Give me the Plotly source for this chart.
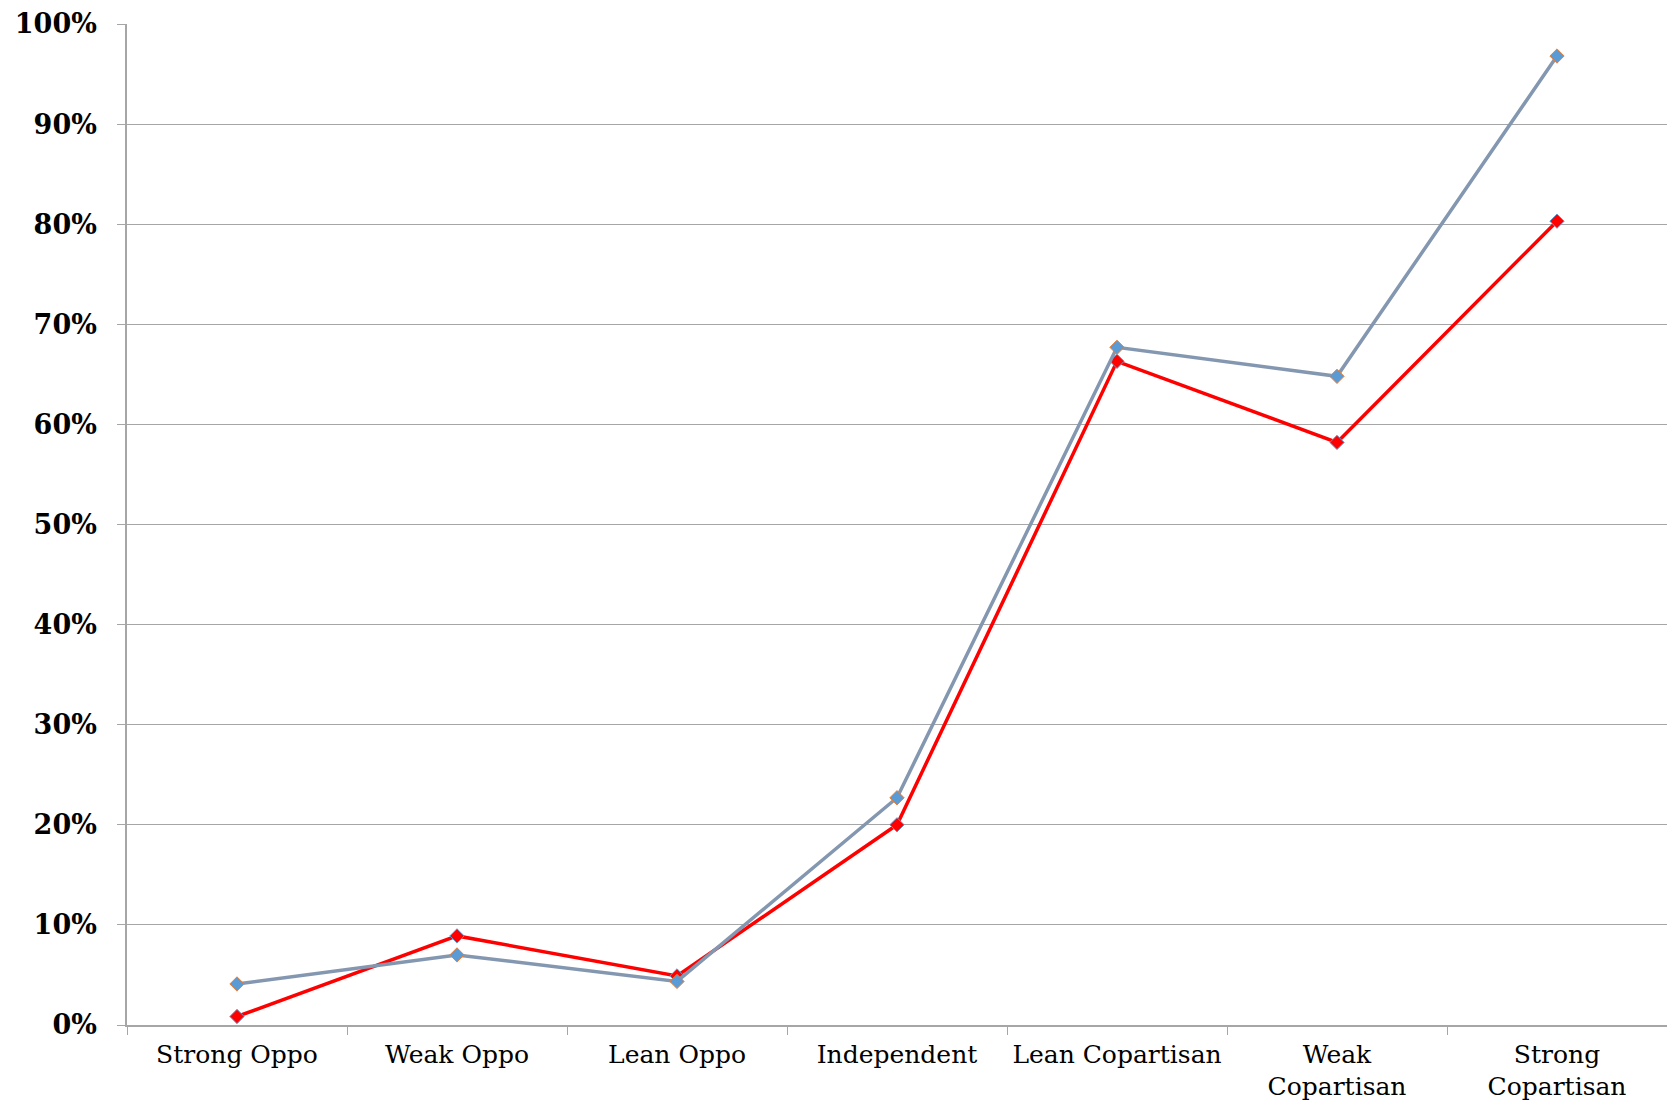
import plotly.graph_objects as go

categories = ["Strong Oppo", "Weak Oppo", "Lean Oppo", "Independent",
              "Lean Copartisan", "Weak<br>Copartisan", "Strong<br>Copartisan"]
red_values = [0.0085, 0.089, 0.049, 0.200, 0.663, 0.582, 0.803]
gray_values = [0.041, 0.070, 0.0435, 0.227, 0.677, 0.648, 0.968]
y_tick_vals = [0, 0.1, 0.2, 0.3, 0.4, 0.5, 0.6, 0.7, 0.8, 0.9, 1.0]
y_tick_text = ["0%", "10%", "20%", "30%", "40%", "50%", "60%", "70%", "80%", "90%", "100%"]

fig = go.Figure()
fig.add_trace(go.Scatter(
    x=categories, y=red_values, mode="lines+markers",
    line=dict(color="#FF0000", width=3.5),
    marker=dict(symbol="diamond", size=11, color="#FF0000",
                line=dict(color="#5B9BD5", width=1)),
    showlegend=False,
))
fig.add_trace(go.Scatter(
    x=categories, y=gray_values, mode="lines+markers",
    line=dict(color="#8497B0", width=3.5),
    marker=dict(symbol="diamond", size=11, color="#5B9BD5",
                line=dict(color="#ED7D31", width=1)),
    showlegend=False,
))

fig.update_layout(
    width=1659, height=1097,
    margin=dict(l=119, r=0, t=16, b=80),
    plot_bgcolor="white", paper_bgcolor="white",
    font=dict(family="DejaVu Serif", color="black"),
)
fig.update_xaxes(
    type="category", range=[-0.5, 6.5], automargin=False, tickangle=0,
    tickson="boundaries", ticks="outside", ticklen=8, tickcolor="#A6A6A6",
    showgrid=False, showline=True, linecolor="#A6A6A6", linewidth=1.5,
    ticklabelstandoff=6, ticklabeloverflow="allow",
    tickfont=dict(family="DejaVu Serif", size=25, color="black"),
)
fig.update_yaxes(
    range=[0, 1.0], tickvals=y_tick_vals, ticktext=y_tick_text, automargin=False,
    ticks="outside", ticklen=8, tickcolor="#A6A6A6",
    showgrid=True, gridcolor="#A6A6A6", gridwidth=1.2,
    showline=True, linecolor="#A6A6A6", linewidth=1.5,
    zeroline=False, ticklabelstandoff=15, ticklabeloverflow="allow",
    tickfont=dict(family="DejaVu Serif", size=27, color="black", weight="bold"),
)
fig.write_html("out.html")
